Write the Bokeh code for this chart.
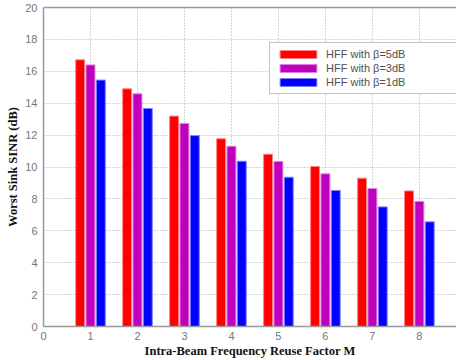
from bokeh.plotting import figure
from bokeh.models import ColumnDataSource, LinearAxis, FixedTicker, Range1d, Legend, LegendItem
from bokeh.transform import dodge
from bokeh.embed import file_html
from bokeh.resources import INLINE

# Worst sink SINR (dB) per intra-beam frequency reuse factor M
reuse_factor = [1, 2, 3, 4, 5, 6, 7, 8]
sinr_beta5 = [16.72, 14.90, 13.19, 11.77, 10.80, 10.03, 9.30, 8.50]
sinr_beta3 = [16.40, 14.59, 12.73, 11.30, 10.34, 9.57, 8.65, 7.84]
sinr_beta1 = [15.45, 13.67, 11.97, 10.36, 9.36, 8.53, 7.50, 6.56]
series_labels = ["HFF with \u03b2=5dB", "HFF with \u03b2=3dB", "HFF with \u03b2=1dB"]
series_colors = ["#ff0000", "#bf00bf", "#0000ff"]
edge_colors = ["#ff8080", "#e080e0", "#8080ff"]
x_ticks = [0, 1, 2, 3, 4, 5, 6, 7, 8]
y_ticks = [0, 2, 4, 6, 8, 10, 12, 14, 16, 18, 20]

source = ColumnDataSource(dict(m=reuse_factor, b5=sinr_beta5, b3=sinr_beta3, b1=sinr_beta1))

p = figure(width=456, height=360, output_backend="svg", toolbar_location=None,
           x_range=Range1d(0, 8.79), y_range=Range1d(0, 20),
           min_border_left=43, min_border_right=0, min_border_top=7, min_border_bottom=34)
p.outline_line_color = None
p.background_fill_color = "white"
p.border_fill_color = "white"

renderers = []
for col, off, color, edge in zip(["b5", "b3", "b1"], [-0.22, 0.0, 0.22], series_colors, edge_colors):
    r = p.vbar(x=dodge("m", off, range=p.x_range), top=col, width=0.19, source=source,
               fill_color=color, line_color=edge, line_width=1)
    renderers.append(r)

# axes
for ax in (p.xaxis[0], p.yaxis[0]):
    ax.axis_line_color = "#999999"
    ax.axis_line_width = 1.5
    ax.major_tick_line_color = None
    ax.minor_tick_line_color = None
    ax.major_tick_out = 0
    ax.major_tick_in = 0
    ax.minor_tick_out = 0
    ax.major_label_text_font = "Liberation Sans"
    ax.major_label_text_font_size = "11px"
    ax.major_label_text_color = "#777777"
    ax.axis_label_text_font = "Liberation Serif"
    ax.axis_label_text_font_style = "bold"
    ax.axis_label_text_font_size = "12.5px"
    ax.axis_label_text_color = "#111111"

p.xaxis.ticker = FixedTicker(ticks=x_ticks)
p.yaxis.ticker = FixedTicker(ticks=y_ticks)
p.xaxis.axis_label = "Intra-Beam Frequency Reuse Factor M"
p.yaxis.axis_label = "Worst Sink SINR (dB)"
p.xaxis.major_label_standoff = 5
p.yaxis.major_label_standoff = 6
p.xaxis.axis_label_standoff = 1
p.yaxis.axis_label_standoff = 2

# top frame line
top_axis = LinearAxis(ticker=FixedTicker(ticks=[]), axis_line_color="#999999", axis_line_width=1.5,
                      major_label_text_font_size="0px", major_tick_line_color=None,
                      minor_tick_line_color=None, major_tick_out=0, minor_tick_out=0)
p.add_layout(top_axis, "above")

# dotted grid
for g in (p.xgrid[0], p.ygrid[0]):
    g.grid_line_color = "#aaaaaa"
    g.grid_line_dash = "1 2"
    g.grid_line_width = 1
p.xgrid.ticker = FixedTicker(ticks=x_ticks[1:])
p.ygrid.ticker = FixedTicker(ticks=y_ticks[1:-1])

legend = Legend(items=[LegendItem(label=lab, renderers=[r]) for lab, r in zip(series_labels, renderers)],
                location=(226, 232), orientation="vertical",
                glyph_width=46, glyph_height=10, label_height=10, label_width=126,
                label_text_font="Liberation Sans", label_text_font_size="11px",
                label_text_color="#505050", label_standoff=5, spacing=2,
                padding=5, margin=0,
                border_line_color="#888888", border_line_width=1.5,
                background_fill_color="white", background_fill_alpha=1.0)
p.add_layout(legend, "center")

open("out.html", "w").write(file_html(p, INLINE))
